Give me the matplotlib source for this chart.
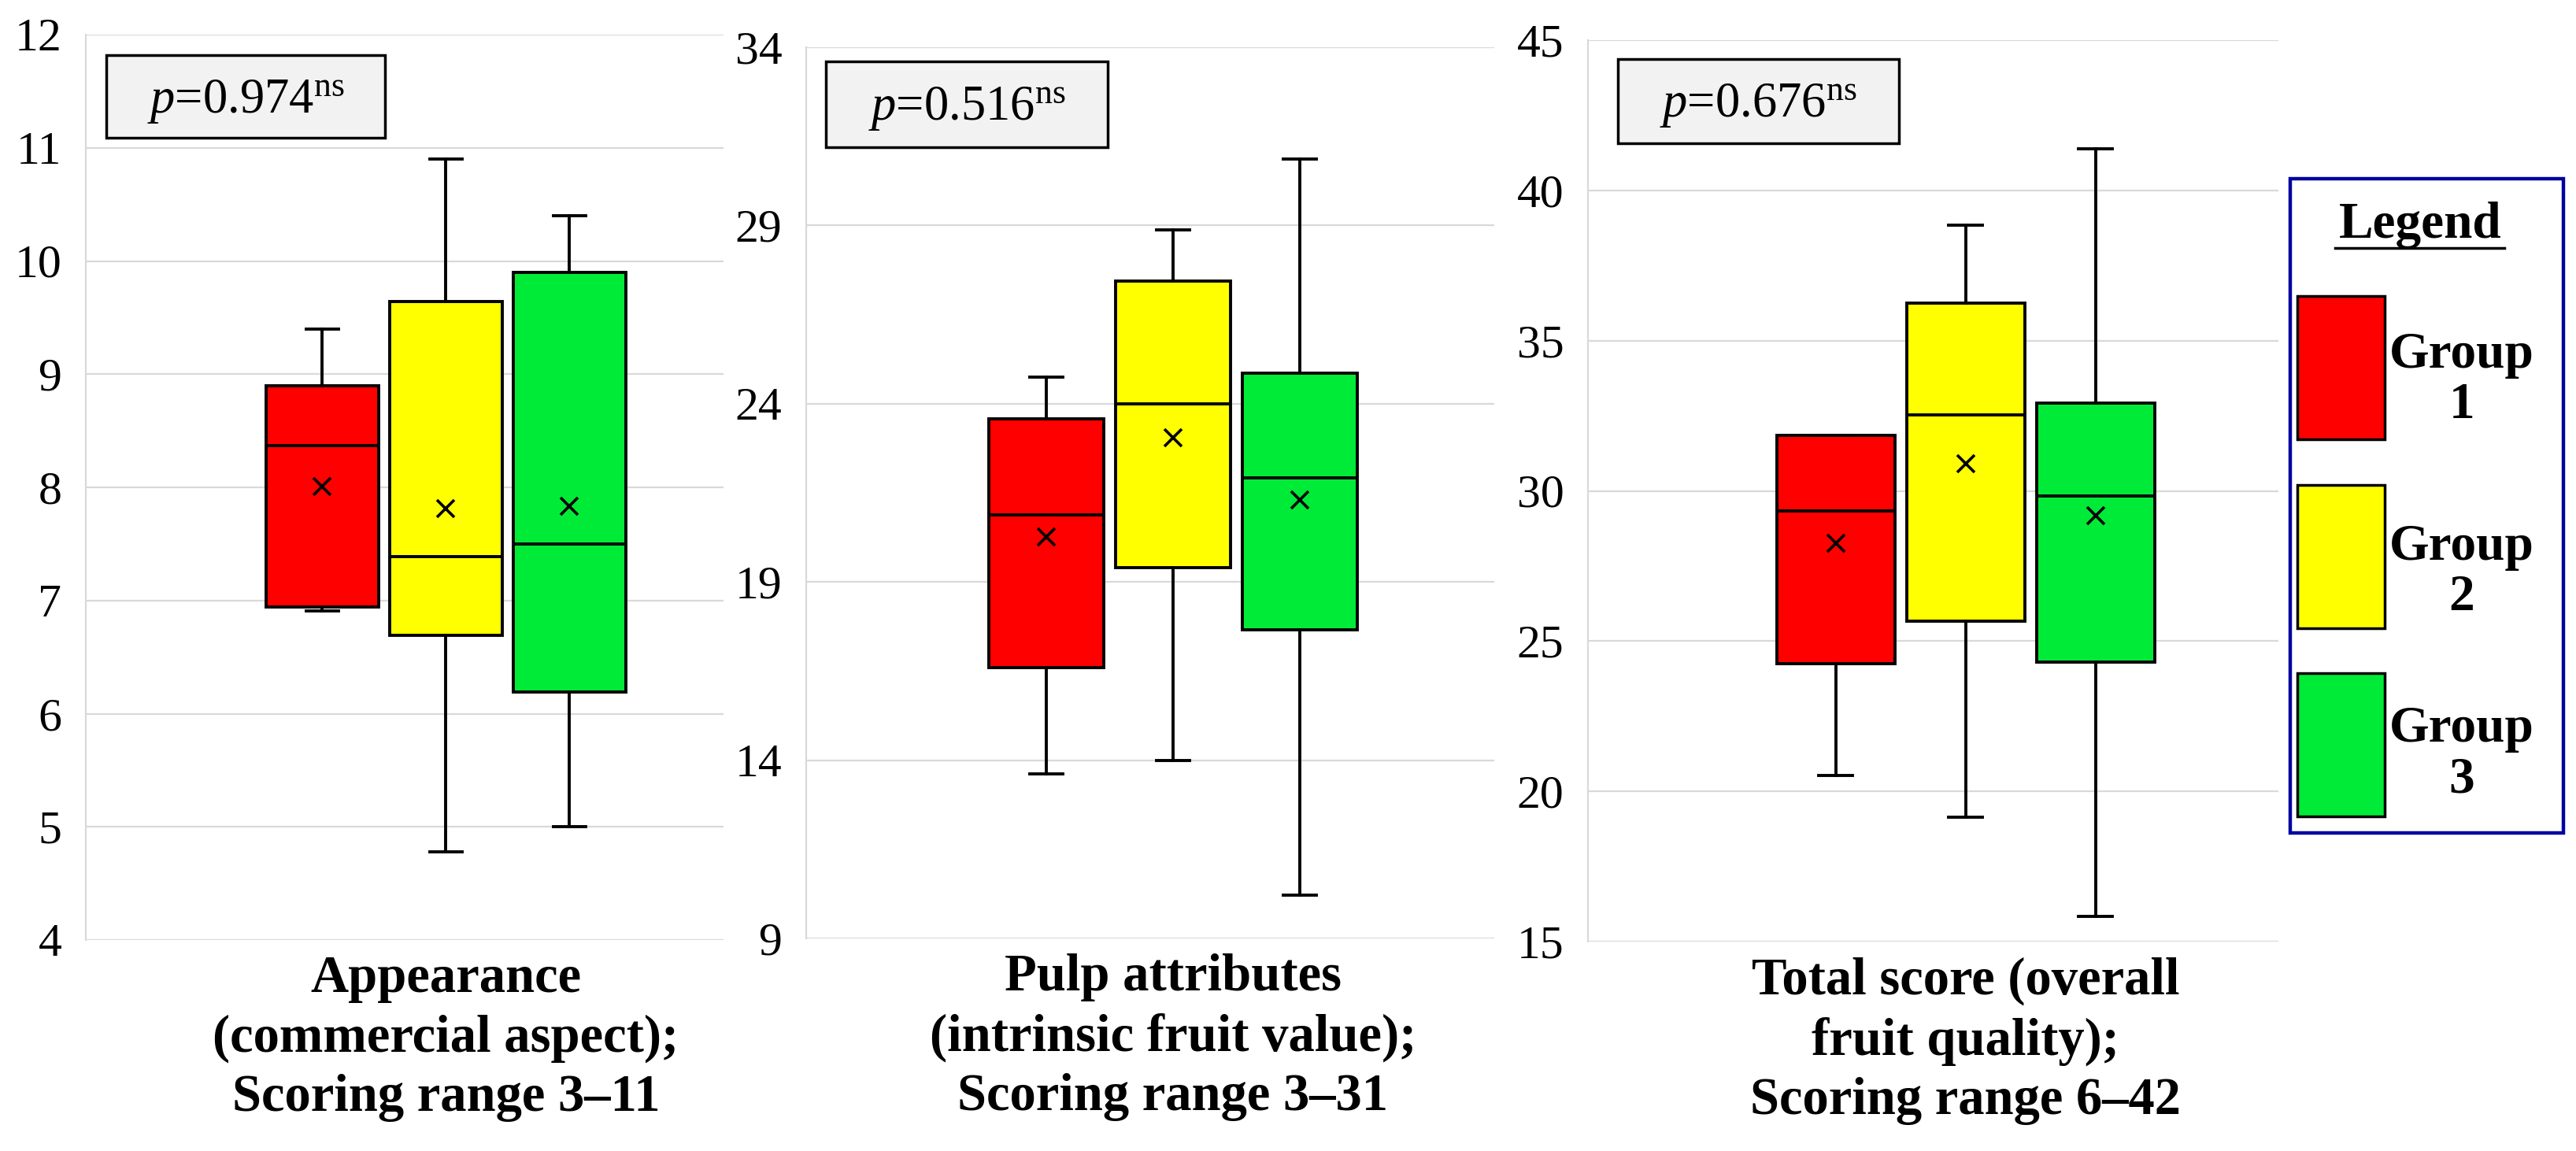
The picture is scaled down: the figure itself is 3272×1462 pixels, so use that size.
import matplotlib
matplotlib.use("Agg")
import matplotlib.pyplot as plt
from matplotlib.patches import Rectangle
from matplotlib.lines import Line2D

plt.rcParams['font.family'] = ['Liberation Serif', 'DejaVu Serif']
plt.rcParams['mathtext.fontset'] = 'custom'
plt.rcParams['mathtext.rm'] = 'Liberation Serif'
plt.rcParams['mathtext.it'] = 'Liberation Serif:italic'
plt.rcParams['mathtext.bf'] = 'Liberation Serif:bold'

# ---- data ----
groups = ['Group\n1', 'Group\n2', 'Group\n3']
group_colors = ['#ff0000', '#ffff00', '#00eb37']

titles = ['Appearance\n(commercial aspect);\nScoring range 3\u201311',
          'Pulp attributes\n(intrinsic fruit value);\nScoring range 3\u201331',
          'Total score (overall\nfruit quality);\nScoring range 6\u201342']
p_values = ['0.974', '0.516', '0.676']

# per panel: one list per group -> [whislo, q1, median, q3, whishi, mean]
appearance = [[6.91, 6.94, 8.37, 8.90, 9.40, 8.01],
              [4.78, 6.69, 7.39, 9.64, 10.90, 7.81],
              [5.00, 6.19, 7.50, 9.90, 10.40, 7.83]]
pulp = [[13.61, 16.60, 20.88, 23.58, 24.75, 20.26],
        [14.00, 19.40, 24.00, 27.43, 28.87, 23.04],
        [10.22, 17.65, 21.91, 24.86, 30.87, 21.30]]
total = [[20.54, 24.26, 29.34, 31.86, 31.86, 28.26],
         [19.15, 25.67, 32.54, 36.25, 38.84, 30.90],
         [15.83, 24.31, 29.83, 32.93, 41.38, 29.17]]
panels = [appearance, pulp, total]

y_ticks = [list(range(4, 13, 1)), list(range(9, 35, 5)), list(range(15, 46, 5))]

# ---- layout ----
W, H = 3273, 1462
fig = plt.figure(figsize=(W / 100, H / 100), dpi=100)

# axes boxes in pixels: left, top, right, bottom
ax_px = [(109, 44, 919, 1194), (1024, 60, 1898, 1192), (2017, 51, 2894, 1196)]
x_lims = [(-0.914, 4.246), (-0.895, 4.535), (-0.908, 4.407)]
pbox = [(0.0325, 0.886, 0.4695, 0.977), (0.0286, 0.888, 0.438, 0.984),
        (0.0433, 0.886, 0.450, 0.979)]

grid_c = '#d9d9d9'
positions = [1, 2, 3]

for i, data in enumerate(panels):
    l, t, r, b = ax_px[i]
    ax = fig.add_axes([l / W, 1 - b / H, (r - l) / W, (b - t) / H])
    stats = []
    for g, (lo, q1, med, q3, hi, mean) in enumerate(data):
        stats.append(dict(whislo=lo, q1=q1, med=med, q3=q3, whishi=hi,
                          mean=mean, fliers=[], label=groups[g]))
    bp = ax.bxp(stats, positions=positions, widths=0.91, patch_artist=True,
                showmeans=True, capwidths=0.26, manage_ticks=False,
                boxprops=dict(edgecolor='black', linewidth=2.8),
                whiskerprops=dict(color='black', linewidth=2.8),
                capprops=dict(color='black', linewidth=2.8),
                medianprops=dict(color='black', linewidth=2.8),
                meanprops=dict(marker='x', markeredgecolor='black',
                               markersize=16, markeredgewidth=2.6))
    for patch, c in zip(bp['boxes'], group_colors):
        patch.set_facecolor(c)

    ax.set_xlim(*x_lims[i])
    ax.set_ylim(y_ticks[i][0], y_ticks[i][-1])
    ax.set_yticks(y_ticks[i])
    ax.set_xticks([2])
    ax.set_xticklabels([titles[i]], fontsize=48, fontweight='bold',
                       linespacing=1.3)
    ax.tick_params(axis='y', length=0, pad=22, labelsize=43)
    ax.tick_params(axis='x', length=0, pad=14)
    ax.yaxis.grid(True, color=grid_c, linewidth=1.6)
    ax.set_axisbelow(True)
    for s in ['top', 'right', 'bottom']:
        ax.spines[s].set_visible(False)
    ax.spines['left'].set_color(grid_c)
    ax.spines['left'].set_linewidth(1.6)

    x0, y0, x1, y1 = pbox[i]
    ax.add_patch(Rectangle((x0, y0), x1 - x0, y1 - y0, transform=ax.transAxes,
                           facecolor='#f2f2f2', edgecolor='black', linewidth=2.5,
                           clip_on=False, zorder=5))
    ax.text((x0 + x1) / 2, (y0 + y1) / 2 - 0.005,
            r'$p$=' + p_values[i] + r'$^{\mathrm{ns}}$',
            transform=ax.transAxes, ha='center', va='center', fontsize=45,
            zorder=6)

# ---- legend box ----
def fx(px):
    return px / W


def fy(py):
    return 1 - py / H


fig.add_artist(Rectangle((fx(2909), fy(1058)), fx(3256) - fx(2909), fy(227) - fy(1058),
                         transform=fig.transFigure, facecolor='white',
                         edgecolor='#0000a0', linewidth=3.2))
fig.text(fx(3074), fy(286), 'Legend', ha='center', va='center',
         fontsize=47, fontweight='bold')
fig.add_artist(Line2D([fx(2966), fx(3181)], [fy(315), fy(315)],
                      transform=fig.transFigure, color='black', linewidth=2.5))

patch_rows = [(376, 558, 483), (616, 798, 727), (855, 1037, 958)]
for (top, bot, ty), c, lab in zip(patch_rows, group_colors, groups):
    fig.add_artist(Rectangle((fx(2918), fy(bot)), fx(3029) - fx(2918), fy(top) - fy(bot),
                             transform=fig.transFigure, facecolor=c,
                             edgecolor='black', linewidth=2.5))
    fig.text(fx(3127), fy(ty), lab, ha='center', va='center', fontsize=47,
             fontweight='bold', linespacing=1.1, multialignment='center')

fig.savefig('out.png', dpi=100)
